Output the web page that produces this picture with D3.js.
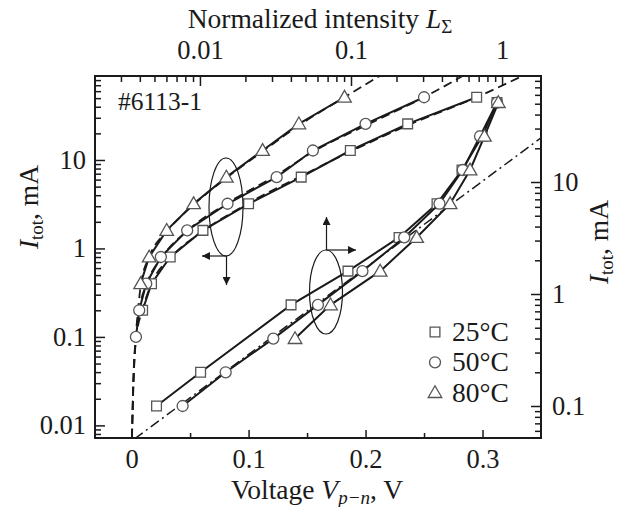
<!DOCTYPE html>
<html>
<head>
<meta charset="utf-8">
<script src="https://cdn.jsdelivr.net/npm/d3@7"></script>
<style>
  body { margin: 0; background: #fff; }
  svg text { font-family: "Liberation Serif", "Times New Roman", serif; fill: #1a1a1a; }
</style>
</head>
<body>
<svg id="chart" width="623" height="507"></svg>
<script>
// ---- data ----
// upper set: I_tot (left axis, mA) vs voltage V_p-n (bottom axis, V)
const up25V = [0.0094, 0.017, 0.033, 0.061, 0.100, 0.145, 0.187, 0.236, 0.295];
const up25I = [0.2, 0.4, 0.8, 1.6, 3.2, 6.4, 12.8, 25.6, 51.2];
const up50V = [0.0037, 0.0065, 0.0125, 0.025, 0.0475, 0.082, 0.124, 0.155, 0.200, 0.250];
const up50I = [0.1, 0.2, 0.4, 0.8, 1.6, 3.2, 6.4, 12.8, 25.6, 51.2];
const up80V = [0.0077, 0.015, 0.030, 0.053, 0.081, 0.112, 0.143, 0.182];
const up80I = [0.4, 0.8, 1.6, 3.2, 6.4, 12.8, 25.6, 51.2];

// dashed fits for the upper set
const fitI   = [0.0072, 0.03, 0.1, 0.2, 0.4, 0.8, 1.6, 3.2, 6.4, 12.8, 25.6, 51.2, 89];
const fit25V = [0.0003, 0.0016, 0.004, 0.0092, 0.017, 0.034, 0.062, 0.099, 0.143, 0.189, 0.239, 0.295, 0.334];
const fit50V = [0.0003, 0.0015, 0.0037, 0.0065, 0.013, 0.026, 0.048, 0.081, 0.121, 0.157, 0.203, 0.250, 0.283];
const fit80V = [0.0003, 0.0014, 0.0035, 0.0055, 0.008, 0.015, 0.031, 0.054, 0.082, 0.113, 0.145, 0.182, 0.212];

// lower set: I_tot (right axis, mA) vs normalized intensity L (top axis)
const low25L = [0.00516, 0.0101, 0.0401, 0.0955, 0.208, 0.371, 0.543, 0.738, 0.926];
const low25I = [0.1, 0.2, 0.8, 1.6, 3.2, 6.4, 12.8, 25.6, 51.2];
const low50L = [0.00768, 0.0148, 0.0306, 0.0604, 0.119, 0.225, 0.385, 0.549, 0.715, 0.926];
const low50I = [0.1, 0.2, 0.4, 0.8, 1.6, 3.2, 6.4, 12.8, 25.6, 51.2];
const low80L = [0.0426, 0.0732, 0.156, 0.272, 0.453, 0.614, 0.764, 0.945];
const low80I = [0.4, 0.8, 1.6, 3.2, 6.4, 12.8, 25.6, 51.2];

// dash-dot reference line (I proportional to L)
const refL = [0.0037, 1.9];
const refI = [0.051, 26];

const bottomTicks = [0, 0.1, 0.2, 0.3];
const bottomMinor = [0.05, 0.15, 0.25];
const leftTicks = [0.01, 0.1, 1, 10];
const topTicks = [0.01, 0.1, 1];
const rightTicks = [0.1, 1, 10];
const legendNames = ['25°C', '50°C', '80°C'];

// ---- layout ----
const svg = d3.select('#chart');
const plot = { left: 95, right: 541, top: 76, bottom: 438 };
const fs = 26.5;     // tick labels
const fsTitle = 27.5;
const fsSub = 19;

const x = d3.scaleLinear().domain([-0.0313, 0.35]).range([plot.left, plot.right]);
const yL = d3.scaleLog().domain([0.0072, 89]).range([plot.bottom, plot.top]);
const xT = d3.scaleLog().domain([0.00202, 1.81]).range([plot.left, plot.right]);
const yR = d3.scaleLog().domain([0.0518, 88.4]).range([plot.bottom, plot.top]);

// minor ticks for a log scale
function logMinor(scale) {
  const [a, b] = scale.domain();
  const out = [];
  for (let e = -4; e <= 3; e++) {
    for (let m = 2; m <= 9; m++) {
      const v = m * Math.pow(10, e);
      if (v > a && v < b) out.push(v);
    }
  }
  return out;
}

svg.append('defs').append('clipPath').attr('id', 'clip')
  .append('rect')
  .attr('x', plot.left).attr('y', plot.top)
  .attr('width', plot.right - plot.left).attr('height', plot.bottom - plot.top);

function styleAxis(g) {
  g.select('.domain').remove();
  g.selectAll('line').attr('stroke', '#1a1a1a').attr('stroke-width', 1.5);
  g.selectAll('text').attr('font-size', fs).attr('font-family', '"Liberation Serif", serif').attr('fill', '#1a1a1a');
}

// left axis
svg.append('g').attr('transform', `translate(${plot.left},0)`)
  .call(d3.axisLeft(yL).tickValues(leftTicks).tickSize(-10).tickPadding(9).tickFormat(d => d))
  .call(styleAxis);
svg.append('g').attr('transform', `translate(${plot.left},0)`)
  .call(d3.axisLeft(yL).tickValues(logMinor(yL)).tickSize(-6).tickFormat(''))
  .call(styleAxis);

// right axis
svg.append('g').attr('transform', `translate(${plot.right},0)`)
  .call(d3.axisRight(yR).tickValues(rightTicks).tickSize(-10).tickPadding(11).tickFormat(d => d))
  .call(styleAxis);
svg.append('g').attr('transform', `translate(${plot.right},0)`)
  .call(d3.axisRight(yR).tickValues(logMinor(yR)).tickSize(-6).tickFormat(''))
  .call(styleAxis);

// top axis
svg.append('g').attr('transform', `translate(0,${plot.top})`)
  .call(d3.axisTop(xT).tickValues(topTicks).tickSize(-10).tickPadding(17).tickFormat(d => d))
  .call(styleAxis);
svg.append('g').attr('transform', `translate(0,${plot.top})`)
  .call(d3.axisTop(xT).tickValues(logMinor(xT)).tickSize(-6).tickFormat(''))
  .call(styleAxis);

// bottom axis
svg.append('g').attr('transform', `translate(0,${plot.bottom})`)
  .call(d3.axisBottom(x).tickValues(bottomTicks).tickSize(-8).tickPadding(11).tickFormat(d => d))
  .call(styleAxis);
svg.append('g').attr('transform', `translate(0,${plot.bottom})`)
  .call(d3.axisBottom(x).tickValues(bottomMinor).tickSize(-5).tickFormat(''))
  .call(styleAxis);

// frame
svg.append('rect')
  .attr('x', plot.left).attr('y', plot.top)
  .attr('width', plot.right - plot.left).attr('height', plot.bottom - plot.top)
  .attr('fill', 'none').attr('stroke', '#1a1a1a').attr('stroke-width', 2);

const body = svg.append('g').attr('clip-path', 'url(#clip)');

// dashed fits
const fitLine = d3.line().x(d => x(d[0])).y(d => yL(d[1])).curve(d3.curveMonotoneX);
[fit25V, fit50V, fit80V].forEach(vs => {
  body.append('path')
    .attr('d', fitLine(vs.map((v, i) => [v, fitI[i]])))
    .attr('fill', 'none').attr('stroke', '#1a1a1a')
    .attr('stroke-width', 1.8).attr('stroke-dasharray', '9,5');
});

// dash-dot reference
body.append('path')
  .attr('d', d3.line().x(d => xT(d[0])).y(d => yR(d[1]))(refL.map((l, i) => [l, refI[i]])))
  .attr('fill', 'none').attr('stroke', '#1a1a1a')
  .attr('stroke-width', 1.5).attr('stroke-dasharray', '10,4,2,4');

// markers
const symbols = [d3.symbolSquare, d3.symbolCircle, d3.symbolTriangle];
const symbolSizes = [95, 95, 80];
function drawSeries(pts, sx, sy, k) {
  body.append('path')
    .attr('d', d3.line().x(d => sx(d[0])).y(d => sy(d[1]))(pts))
    .attr('fill', 'none').attr('stroke', '#1a1a1a').attr('stroke-width', 2);
  body.selectAll(null).data(pts).enter().append('path')
    .attr('transform', d => `translate(${sx(d[0])},${sy(d[1])})` + (k === 2 ? ' translate(0,1)' : ''))
    .attr('d', d3.symbol().type(symbols[k]).size(symbolSizes[k]))
    .attr('fill', '#fff').attr('stroke', '#555').attr('stroke-width', 1.3);
}

const zip = (a, b) => a.map((v, i) => [v, b[i]]);
drawSeries(zip(up25V, up25I), x, yL, 0);
drawSeries(zip(up50V, up50I), x, yL, 1);
drawSeries(zip(up80V, up80I), x, yL, 2);
drawSeries(zip(low25L, low25I), xT, yR, 0);
drawSeries(zip(low50L, low50I), xT, yR, 1);
drawSeries(zip(low80L, low80I), xT, yR, 2);

// ellipses with axis arrows
svg.append('defs').append('marker')
  .attr('id', 'arrow').attr('viewBox', '0 0 10 10').attr('refX', 10).attr('refY', 5)
  .attr('markerWidth', 10).attr('markerHeight', 8).attr('markerUnits', 'userSpaceOnUse')
  .attr('orient', 'auto')
  .append('path').attr('d', 'M0,0L10,5L0,10Z').attr('fill', '#1a1a1a');

function ellipseMark(cx, cy, rx, ry, arrows) {
  svg.append('ellipse').attr('cx', cx).attr('cy', cy).attr('rx', rx).attr('ry', ry)
    .attr('fill', 'none').attr('stroke', '#1a1a1a').attr('stroke-width', 1.2);
  arrows.forEach(a => {
    svg.append('line').attr('x1', a[0]).attr('y1', a[1]).attr('x2', a[2]).attr('y2', a[3])
      .attr('stroke', '#1a1a1a').attr('stroke-width', 1.2).attr('marker-end', 'url(#arrow)');
  });
}
ellipseMark(226, 207, 17, 49, [[226.5, 256, 202, 256], [226.5, 256, 226.5, 285]]);
ellipseMark(326, 292, 16.5, 42, [[326.5, 250, 326.5, 217], [326.5, 250, 356, 250]]);

// legend
const legend = svg.append('g');
legendNames.forEach((name, i) => {
  const yy = 332 + i * 30.3;
  legend.append('path')
    .attr('transform', `translate(435,${yy + (i === 2 ? 1 : 0)})`)
    .attr('d', d3.symbol().type(symbols[i]).size(symbolSizes[i]))
    .attr('fill', '#fff').attr('stroke', '#555').attr('stroke-width', 1.3);
  legend.append('text').attr('x', 452).attr('y', yy + 9).attr('font-size', 27.5).text(name);
});

// sample label
svg.append('text').attr('x', 118).attr('y', 110).attr('font-size', 25.5).text('#6113-1');

// axis titles
const topTitle = svg.append('text').attr('x', 320).attr('y', 28).attr('font-size', fsTitle).attr('text-anchor', 'middle');
topTitle.append('tspan').text('Normalized intensity ');
topTitle.append('tspan').attr('font-style', 'italic').text('L');
topTitle.append('tspan').attr('font-size', fsSub).attr('dy', 5).text('Σ');

const botTitle = svg.append('text').attr('x', 317).attr('y', 499).attr('font-size', fsTitle).attr('text-anchor', 'middle');
botTitle.append('tspan').text('Voltage ');
botTitle.append('tspan').attr('font-style', 'italic').text('V');
botTitle.append('tspan').attr('font-style', 'italic').attr('font-size', fsSub).attr('dy', 5).text('p−n');
botTitle.append('tspan').attr('dy', -5).text(', V');

function yTitle(tx, ty) {
  const t = svg.append('text').attr('transform', `translate(${tx},${ty}) rotate(-90)`)
    .attr('font-size', fsTitle).attr('text-anchor', 'middle');
  t.append('tspan').attr('font-style', 'italic').text('I');
  t.append('tspan').attr('font-size', fsSub).attr('dy', 5).text('tot');
  t.append('tspan').attr('dy', -5).text(', mA');
}
yTitle(38, 207);
yTitle(608, 242);
</script>
</body>
</html>
